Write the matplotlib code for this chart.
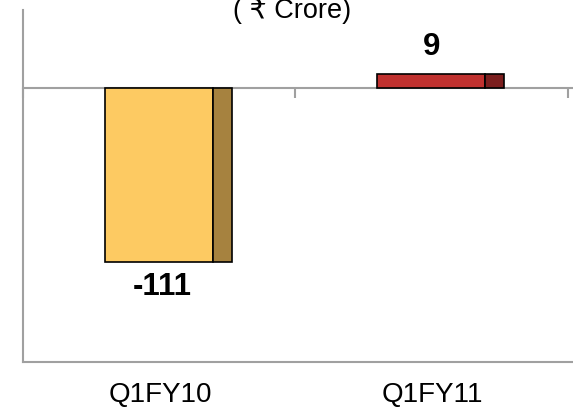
import numpy as np
import matplotlib
matplotlib.use("Agg")
import matplotlib.pyplot as plt
import matplotlib.transforms as mtransforms

plt.rcParams['font.family'] = ['Liberation Sans', 'DejaVu Sans']

# data
quarters = ["Q1FY10", "Q1FY11"]
profit = [-111, 9]
front_colors = ["#FDCA62", "#C0312F"]
side_colors = ["#A6823F", "#7B1E1E"]

fig = plt.figure(figsize=(5.73, 4.09), dpi=100)
ax = fig.add_axes([22.5 / 573, 47.3 / 409, 550.5 / 573, 351.7 / 409])

x = np.arange(len(quarters))
w_front = 0.395
w_side = 0.07

# front faces + darker side faces for the 3d look
ax.bar(x, profit, width=w_front, color=front_colors, edgecolor="black",
       linewidth=1.2, zorder=3)
ax.bar(x + w_front / 2 + w_side / 2, profit, width=w_side, color=side_colors,
       edgecolor="black", linewidth=1.2, zorder=3)

ax.set_xlim(-0.5, 1.52)
ax.set_ylim(-175, 50)

grey = "#a0a0a0"
for s in ["top", "right"]:
    ax.spines[s].set_visible(False)
ax.spines["left"].set_color(grey)
ax.spines["left"].set_linewidth(1.5)
ax.spines["bottom"].set_position(("data", 0))
ax.spines["bottom"].set_color(grey)
ax.spines["bottom"].set_linewidth(1.5)
ax.axhline(-175, color=grey, linewidth=1.5, clip_on=False, zorder=1)

ax.set_xticks([-0.5, 0.5, 1.5])
ax.set_xticklabels([])
ax.tick_params(axis="x", direction="out", length=7, width=1.5, color=grey)
ax.set_yticks([])

# category labels under the plot area
trans = mtransforms.blended_transform_factory(ax.transData, ax.transAxes)
for i, q in enumerate(quarters):
    ax.text(i + 0.005, -0.116, q, transform=trans, ha="center", va="baseline",
            fontsize=20, color="black")

# value labels
for i, v in enumerate(profit):
    off = (0, 27) if v >= 0 else (3, -25)
    ax.annotate(f"{v}", xy=(i, v), xytext=off, textcoords="offset pixels",
                ha="center", va="center", fontsize=22.5, fontweight="bold")

fig.text(292 / 573, 1 - 18.5 / 409, "( \u20b9 Crore)", ha="center",
         va="baseline", fontsize=19.5)

fig.savefig("out.png", dpi=100)
